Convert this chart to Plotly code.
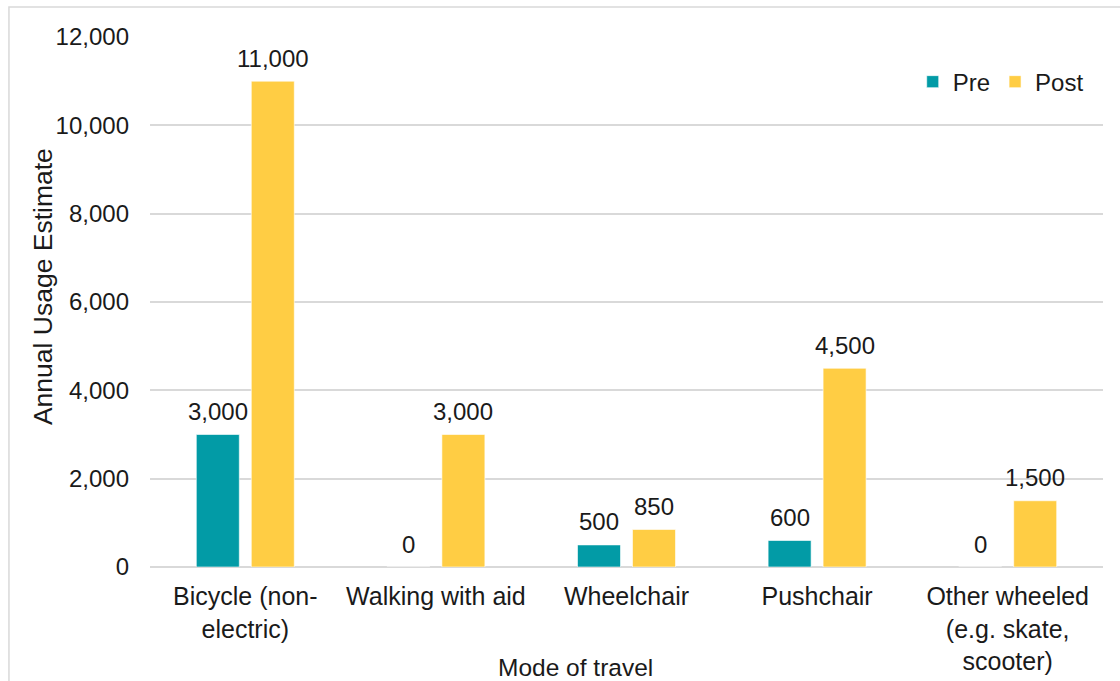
import plotly.graph_objects as go

categories = [
    "Bicycle (non-<br>electric)",
    "Walking with aid",
    "Wheelchair",
    "Pushchair",
    "Other wheeled<br>(e.g. skate,<br>scooter)",
]
pre_values = [3000, 0, 500, 600, 0]
post_values = [11000, 3000, 850, 4500, 1500]
y_ticks = [0, 2000, 4000, 6000, 8000, 10000, 12000]

FONT = "Liberation Sans, Arial, sans-serif"
INK = "#1a1a1a"
TEAL = "#029ba6"
GOLD = "#ffcd44"

series = (("Pre", pre_values, TEAL, -27.5), ("Post", post_values, GOLD, 27.5))

fig = go.Figure()
for name, vals, color, shift in series:
    fig.add_trace(go.Bar(
        name=name, x=categories, y=vals,
        marker=dict(color=color, line=dict(color="rgba(255,255,255,0.6)", width=1)),
        hovertemplate="%{x}<br>" + name + ": %{y:,}<extra></extra>",
    ))
    # value labels sitting just above each bar
    for cat, v in zip(categories, vals):
        fig.add_annotation(
            x=cat, y=v, xref="x", yref="y", text=f"{v:,}", showarrow=False,
            xshift=shift, yshift=23, xanchor="center", yanchor="middle",
            font=dict(family=FONT, size=24, color=INK),
        )

# light frame around the whole chart area
fig.add_shape(type="rect", xref="paper", yref="paper",
              x0=-0.148, x1=1.04, y0=-0.4, y1=1.0566,
              line=dict(color="#d9d9d9", width=1.5), fillcolor="rgba(0,0,0,0)",
              layer="below")

# axis titles
fig.add_annotation(text="Mode of travel", xref="paper", yref="paper",
                   x=0.446, y=-0.1887, xanchor="center", yanchor="middle",
                   showarrow=False, font=dict(family=FONT, size=24.5, color=INK))
fig.add_annotation(text="Annual Usage Estimate", xref="paper", yref="paper",
                   x=-0.1123, y=0.530, xanchor="center", yanchor="middle",
                   textangle=-90, showarrow=False,
                   font=dict(family=FONT, size=26.5, color=INK))

fig.update_layout(
    width=1120, height=681,
    margin=dict(l=150, r=17, t=37, b=114),
    paper_bgcolor="white", plot_bgcolor="white",
    barmode="group", bargap=0.423, bargroupgap=0.218,
    font=dict(family=FONT, size=24, color=INK),
    showlegend=True,
    legend=dict(orientation="h", x=0.985, xanchor="right", y=0.915, yanchor="middle",
                font=dict(family=FONT, size=24, color=INK),
                itemwidth=30, tracegroupgap=0, bgcolor="rgba(0,0,0,0)"),
    xaxis=dict(
        tickfont=dict(size=25), showline=False, ticks="", showgrid=False,
        automargin=False, ticklabelstandoff=12,
    ),
    yaxis=dict(
        range=[0, 12000], tickvals=y_ticks, tickformat=",",
        tickfont=dict(size=24), showgrid=True, gridcolor="#d9d9d9", gridwidth=1.5,
        zeroline=True, zerolinecolor="#d9d9d9", zerolinewidth=1.5,
        ticks="", ticklabelstandoff=20, automargin=False,
    ),
)

fig.write_html("out.html")
